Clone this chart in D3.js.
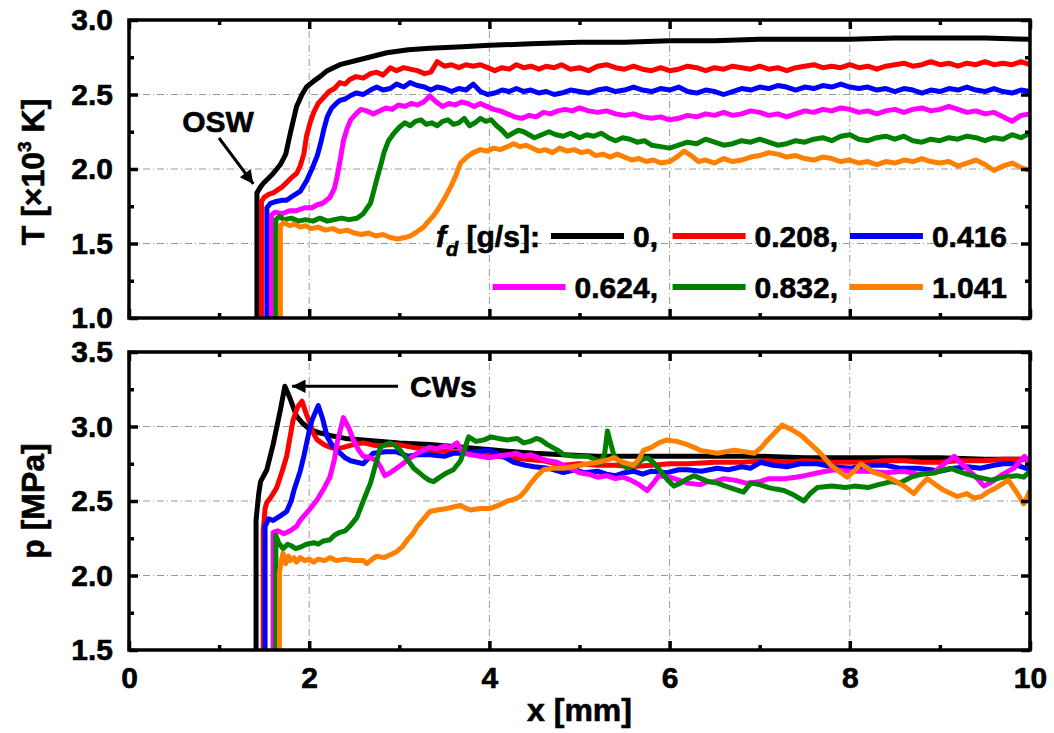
<!DOCTYPE html>
<html>
<head>
<meta charset="utf-8">
<script src="https://cdn.jsdelivr.net/npm/d3@7"></script>
<style>
  body { margin: 0; background: #fff; }
  text { font-family: "Liberation Sans", Arial, sans-serif; font-weight: bold; fill: #000; stroke: #000; stroke-width: 0.6px; }
</style>
</head>
<body>
<script>
// fuel feed rates and line colours
const fdValues = [0, 0.208, 0.416, 0.624, 0.832, 1.041];
const colors = ["#000000", "#ff0000", "#0000ff", "#ff00ff", "#008000", "#ff8000"];

// temperature profiles [x mm, T x10^3 K]
const T_0 = [[1.42,1.0],[1.42,1.84],[1.46,1.88],[1.5,1.91],[1.6,1.97],[1.68,2.03],[1.74,2.10],[1.79,2.24],[1.86,2.42],[1.92,2.50],[1.97,2.55],[2.05,2.59],[2.12,2.62],[2.2,2.66],[2.34,2.70],[2.6,2.74],[2.86,2.78],[3.1,2.80],[3.34,2.81],[3.7,2.82],[4.0,2.83],[4.46,2.84],[5.0,2.85],[5.5,2.85],[6.0,2.86],[6.5,2.86],[7.0,2.87],[7.5,2.87],[8.0,2.87],[8.5,2.88],[9.0,2.88],[9.5,2.88],[10.0,2.87]];
const T_0208 = [[1.47,1.0],[1.47,1.78],[1.5,1.81],[1.55,1.83],[1.6,1.84],[1.65,1.86],[1.7,1.88],[1.75,1.91],[1.8,1.94],[1.86,1.97],[1.9,2.02],[1.94,2.10],[1.97,2.22],[2.01,2.31],[2.05,2.38],[2.1,2.44],[2.16,2.48],[2.22,2.52],[2.28,2.54],[2.34,2.58],[2.4,2.57],[2.45,2.60],[2.52,2.62],[2.6,2.61],[2.68,2.64],[2.75,2.65],[2.82,2.63],[2.9,2.68],[2.97,2.66],[3.05,2.68],[3.12,2.67],[3.2,2.66],[3.28,2.64],[3.35,2.65],[3.42,2.72],[3.5,2.69],[3.58,2.70],[3.66,2.68],[3.74,2.70],[3.82,2.69],[3.9,2.70],[3.98,2.68],[4.06,2.66],[4.14,2.68],[4.22,2.67],[4.3,2.70],[4.38,2.68],[4.46,2.69],[4.55,2.67],[4.63,2.69],[4.72,2.68],[4.8,2.70],[4.9,2.67],[5.0,2.68],[5.1,2.66],[5.2,2.69],[5.3,2.70],[5.4,2.68],[5.5,2.67],[5.6,2.69],[5.7,2.67],[5.8,2.66],[5.9,2.68],[6.0,2.66],[6.1,2.67],[6.2,2.69],[6.3,2.68],[6.4,2.66],[6.5,2.68],[6.6,2.67],[6.7,2.69],[6.8,2.68],[6.9,2.67],[7.0,2.69],[7.1,2.67],[7.2,2.68],[7.3,2.66],[7.4,2.68],[7.5,2.69],[7.6,2.70],[7.7,2.68],[7.8,2.69],[7.9,2.68],[8.0,2.70],[8.1,2.68],[8.2,2.69],[8.3,2.67],[8.4,2.69],[8.5,2.70],[8.6,2.71],[8.7,2.69],[8.8,2.70],[8.9,2.72],[9.0,2.70],[9.1,2.71],[9.2,2.69],[9.3,2.71],[9.4,2.70],[9.5,2.72],[9.6,2.70],[9.7,2.71],[9.8,2.70],[9.9,2.72],[10.0,2.70]];
const T_0416 = [[1.53,1.0],[1.53,1.74],[1.57,1.77],[1.62,1.78],[1.7,1.79],[1.75,1.79],[1.82,1.82],[1.9,1.85],[1.97,1.92],[2.03,2.0],[2.09,2.09],[2.13,2.18],[2.16,2.26],[2.2,2.35],[2.25,2.41],[2.3,2.44],[2.34,2.46],[2.4,2.47],[2.45,2.49],[2.52,2.51],[2.6,2.50],[2.68,2.53],[2.75,2.55],[2.82,2.53],[2.9,2.54],[2.97,2.57],[3.05,2.55],[3.12,2.58],[3.2,2.56],[3.28,2.55],[3.35,2.53],[3.42,2.55],[3.5,2.54],[3.58,2.52],[3.66,2.54],[3.74,2.53],[3.82,2.57],[3.9,2.52],[3.98,2.50],[4.06,2.51],[4.14,2.53],[4.22,2.52],[4.3,2.54],[4.38,2.52],[4.46,2.53],[4.55,2.51],[4.63,2.52],[4.72,2.50],[4.8,2.51],[4.9,2.53],[5.0,2.52],[5.1,2.51],[5.2,2.53],[5.3,2.54],[5.4,2.52],[5.5,2.53],[5.6,2.55],[5.7,2.53],[5.8,2.52],[5.9,2.54],[6.0,2.53],[6.1,2.55],[6.2,2.52],[6.3,2.51],[6.4,2.53],[6.5,2.52],[6.6,2.50],[6.7,2.52],[6.8,2.54],[6.9,2.53],[7.0,2.55],[7.1,2.54],[7.2,2.56],[7.3,2.55],[7.4,2.53],[7.5,2.55],[7.6,2.54],[7.7,2.56],[7.8,2.55],[7.9,2.57],[8.0,2.55],[8.1,2.54],[8.2,2.55],[8.3,2.53],[8.4,2.54],[8.5,2.52],[8.6,2.54],[8.7,2.53],[8.8,2.51],[8.9,2.53],[9.0,2.52],[9.1,2.54],[9.2,2.53],[9.3,2.55],[9.4,2.53],[9.5,2.52],[9.6,2.54],[9.7,2.52],[9.8,2.51],[9.9,2.53],[10.0,2.52]];
const T_0624 = [[1.58,1.0],[1.58,1.69],[1.62,1.71],[1.7,1.70],[1.78,1.72],[1.86,1.72],[1.95,1.74],[2.03,1.74],[2.09,1.76],[2.15,1.77],[2.23,1.81],[2.28,1.87],[2.31,1.95],[2.35,2.08],[2.38,2.19],[2.42,2.27],[2.46,2.33],[2.52,2.37],[2.57,2.40],[2.64,2.39],[2.71,2.37],[2.78,2.39],[2.85,2.41],[2.92,2.40],[2.99,2.43],[3.06,2.42],[3.13,2.44],[3.2,2.43],[3.27,2.45],[3.34,2.49],[3.41,2.45],[3.48,2.42],[3.55,2.44],[3.62,2.43],[3.69,2.45],[3.76,2.44],[3.83,2.42],[3.9,2.44],[3.97,2.42],[4.05,2.40],[4.12,2.39],[4.2,2.37],[4.28,2.35],[4.36,2.34],[4.44,2.36],[4.52,2.35],[4.6,2.38],[4.68,2.37],[4.76,2.39],[4.84,2.40],[4.92,2.39],[5.0,2.41],[5.1,2.39],[5.2,2.38],[5.3,2.39],[5.4,2.37],[5.5,2.36],[5.6,2.37],[5.7,2.35],[5.8,2.34],[5.9,2.35],[6.0,2.33],[6.1,2.34],[6.2,2.36],[6.3,2.35],[6.4,2.37],[6.5,2.36],[6.6,2.38],[6.7,2.36],[6.8,2.37],[6.9,2.39],[7.0,2.38],[7.1,2.36],[7.2,2.37],[7.3,2.35],[7.4,2.37],[7.5,2.39],[7.6,2.38],[7.7,2.40],[7.8,2.39],[7.9,2.41],[8.0,2.40],[8.1,2.38],[8.2,2.39],[8.3,2.37],[8.4,2.39],[8.5,2.40],[8.6,2.38],[8.7,2.40],[8.8,2.41],[8.9,2.39],[9.0,2.40],[9.1,2.42],[9.2,2.40],[9.3,2.38],[9.4,2.39],[9.5,2.37],[9.6,2.38],[9.7,2.35],[9.8,2.32],[9.9,2.36],[10.0,2.37]];
const T_0832 = [[1.63,1.0],[1.63,1.66],[1.67,1.68],[1.72,1.66],[1.8,1.67],[1.88,1.65],[1.96,1.66],[2.04,1.65],[2.12,1.67],[2.2,1.65],[2.28,1.66],[2.36,1.67],[2.44,1.66],[2.53,1.67],[2.6,1.70],[2.68,1.77],[2.72,1.86],[2.75,1.93],[2.8,2.04],[2.83,2.11],[2.88,2.19],[2.94,2.24],[3.0,2.28],[3.06,2.31],[3.12,2.29],[3.18,2.32],[3.24,2.33],[3.3,2.30],[3.36,2.31],[3.42,2.29],[3.48,2.32],[3.54,2.33],[3.6,2.30],[3.66,2.31],[3.72,2.34],[3.78,2.29],[3.84,2.31],[3.9,2.34],[3.96,2.32],[4.02,2.33],[4.08,2.29],[4.14,2.26],[4.2,2.22],[4.26,2.24],[4.32,2.26],[4.38,2.25],[4.44,2.23],[4.5,2.21],[4.58,2.23],[4.66,2.25],[4.74,2.23],[4.82,2.22],[4.9,2.24],[5.0,2.21],[5.08,2.23],[5.16,2.22],[5.24,2.24],[5.32,2.21],[5.4,2.19],[5.48,2.21],[5.56,2.20],[5.64,2.18],[5.72,2.19],[5.8,2.16],[5.9,2.15],[6.0,2.14],[6.1,2.16],[6.2,2.18],[6.3,2.17],[6.4,2.20],[6.5,2.18],[6.6,2.16],[6.7,2.17],[6.8,2.19],[6.9,2.18],[7.0,2.20],[7.1,2.18],[7.2,2.16],[7.3,2.17],[7.4,2.19],[7.5,2.18],[7.6,2.20],[7.7,2.21],[7.8,2.19],[7.9,2.22],[8.0,2.23],[8.1,2.20],[8.2,2.19],[8.3,2.21],[8.4,2.22],[8.5,2.20],[8.6,2.22],[8.7,2.19],[8.8,2.18],[8.9,2.20],[9.0,2.19],[9.1,2.21],[9.2,2.20],[9.3,2.22],[9.4,2.21],[9.5,2.19],[9.6,2.21],[9.7,2.20],[9.8,2.23],[9.9,2.21],[10.0,2.24]];
const T_1041 = [[1.68,1.0],[1.68,1.62],[1.72,1.64],[1.78,1.62],[1.84,1.63],[1.9,1.61],[1.96,1.62],[2.02,1.60],[2.1,1.61],[2.18,1.59],[2.26,1.60],[2.34,1.58],[2.42,1.59],[2.5,1.57],[2.58,1.56],[2.66,1.57],[2.74,1.55],[2.82,1.56],[2.9,1.54],[2.98,1.53],[3.06,1.54],[3.12,1.55],[3.2,1.58],[3.27,1.61],[3.31,1.64],[3.37,1.68],[3.42,1.72],[3.5,1.80],[3.57,1.88],[3.63,1.96],[3.68,2.04],[3.75,2.08],[3.82,2.11],[3.9,2.13],[3.97,2.12],[4.05,2.14],[4.12,2.13],[4.2,2.15],[4.27,2.17],[4.34,2.15],[4.41,2.16],[4.48,2.14],[4.55,2.12],[4.62,2.13],[4.7,2.11],[4.78,2.14],[4.86,2.12],[4.94,2.13],[5.02,2.11],[5.1,2.12],[5.18,2.09],[5.26,2.10],[5.34,2.08],[5.42,2.10],[5.5,2.08],[5.58,2.06],[5.66,2.07],[5.74,2.05],[5.82,2.06],[5.9,2.04],[6.0,2.05],[6.08,2.08],[6.16,2.12],[6.24,2.09],[6.32,2.05],[6.4,2.06],[6.5,2.04],[6.6,2.07],[6.7,2.05],[6.8,2.06],[6.9,2.08],[7.0,2.09],[7.1,2.11],[7.2,2.10],[7.3,2.08],[7.4,2.09],[7.5,2.07],[7.6,2.06],[7.7,2.08],[7.8,2.07],[7.9,2.05],[8.0,2.06],[8.1,2.04],[8.2,2.05],[8.3,2.03],[8.4,2.05],[8.5,2.04],[8.6,2.06],[8.7,2.05],[8.8,2.07],[8.9,2.05],[9.0,2.04],[9.1,2.05],[9.2,2.02],[9.3,2.04],[9.4,2.06],[9.5,2.03],[9.6,1.99],[9.7,2.02],[9.8,2.04],[9.9,2.01],[10.0,1.99]];

// pressure profiles [x mm, p MPa]
const P_0 = [[1.41,1.5],[1.41,2.37],[1.44,2.55],[1.46,2.63],[1.53,2.71],[1.6,2.88],[1.68,3.11],[1.73,3.27],[1.78,3.20],[1.86,3.07],[1.93,3.02],[2.01,2.98],[2.1,2.96],[2.23,2.94],[2.4,2.92],[2.6,2.91],[3.0,2.89],[3.34,2.88],[3.7,2.86],[4.08,2.84],[4.5,2.82],[4.82,2.81],[5.2,2.80],[5.6,2.80],[6.0,2.80],[6.5,2.80],[7.0,2.80],[7.5,2.79],[8.0,2.79],[8.5,2.79],[9.0,2.79],[9.5,2.78],[10.0,2.78]];
const P_0208 = [[1.49,1.5],[1.49,2.30],[1.51,2.45],[1.53,2.49],[1.58,2.53],[1.64,2.59],[1.7,2.70],[1.75,2.80],[1.82,3.04],[1.87,3.13],[1.92,3.17],[1.97,3.08],[2.01,3.02],[2.05,2.95],[2.09,2.91],[2.16,2.88],[2.23,2.86],[2.3,2.85],[2.38,2.86],[2.5,2.88],[2.6,2.89],[2.75,2.87],[2.97,2.88],[3.15,2.86],[3.34,2.84],[3.6,2.83],[3.8,2.82],[4.08,2.80],[4.4,2.78],[4.6,2.77],[4.82,2.74],[5.0,2.75],[5.2,2.74],[5.4,2.74],[5.57,2.73],[5.8,2.74],[6.0,2.75],[6.2,2.75],[6.5,2.76],[6.8,2.76],[7.09,2.77],[7.3,2.76],[7.5,2.77],[7.8,2.76],[8.2,2.76],[8.4,2.77],[8.6,2.77],[8.8,2.76],[9.0,2.76],[9.2,2.77],[9.5,2.77],[9.7,2.78],[10.0,2.78]];
const P_0416 = [[1.51,1.5],[1.51,2.33],[1.55,2.38],[1.6,2.37],[1.68,2.40],[1.75,2.43],[1.8,2.50],[1.83,2.57],[1.9,2.70],[1.94,2.80],[2.0,2.97],[2.03,3.04],[2.1,3.14],[2.15,3.05],[2.2,2.93],[2.26,2.87],[2.31,2.84],[2.4,2.79],[2.46,2.77],[2.6,2.75],[2.71,2.82],[2.85,2.83],[2.97,2.83],[3.1,2.80],[3.2,2.81],[3.34,2.81],[3.5,2.80],[3.6,2.82],[3.71,2.82],[3.85,2.83],[4.0,2.84],[4.15,2.80],[4.27,2.76],[4.4,2.74],[4.5,2.73],[4.65,2.72],[4.82,2.69],[4.95,2.71],[5.05,2.69],[5.2,2.70],[5.3,2.68],[5.4,2.67],[5.5,2.69],[5.6,2.70],[5.7,2.68],[5.8,2.70],[5.97,2.69],[6.1,2.71],[6.2,2.71],[6.35,2.70],[6.53,2.72],[6.65,2.71],[6.8,2.73],[6.9,2.72],[7.01,2.76],[7.15,2.74],[7.3,2.73],[7.45,2.75],[7.64,2.75],[7.8,2.73],[8.01,2.72],[8.2,2.74],[8.4,2.74],[8.55,2.72],[8.75,2.72],[8.9,2.71],[9.0,2.70],[9.15,2.72],[9.31,2.73],[9.45,2.72],[9.6,2.74],[9.7,2.75],[9.8,2.75],[9.9,2.73],[10.0,2.71]];
const P_0624 = [[1.6,1.5],[1.6,2.29],[1.65,2.30],[1.72,2.28],[1.79,2.30],[1.86,2.33],[1.9,2.37],[2.0,2.44],[2.09,2.51],[2.16,2.58],[2.23,2.66],[2.28,2.78],[2.31,2.89],[2.38,3.06],[2.44,2.99],[2.49,2.91],[2.55,2.84],[2.6,2.80],[2.68,2.79],[2.75,2.77],[2.8,2.72],[2.84,2.67],[2.9,2.69],[2.97,2.72],[3.04,2.75],[3.1,2.78],[3.2,2.82],[3.27,2.84],[3.34,2.86],[3.42,2.85],[3.5,2.87],[3.57,2.86],[3.64,2.89],[3.71,2.82],[3.8,2.81],[3.9,2.80],[4.0,2.79],[4.08,2.80],[4.2,2.81],[4.3,2.82],[4.38,2.80],[4.46,2.81],[4.55,2.79],[4.65,2.77],[4.75,2.76],[4.82,2.74],[4.9,2.72],[5.0,2.69],[5.1,2.68],[5.2,2.66],[5.3,2.67],[5.4,2.65],[5.48,2.66],[5.57,2.64],[5.66,2.61],[5.75,2.57],[5.82,2.62],[5.88,2.67],[6.0,2.66],[6.1,2.64],[6.2,2.62],[6.34,2.61],[6.42,2.63],[6.5,2.63],[6.6,2.65],[6.72,2.64],[6.85,2.62],[7.0,2.63],[7.1,2.65],[7.27,2.65],[7.4,2.66],[7.5,2.67],[7.65,2.69],[7.82,2.71],[8.0,2.70],[8.2,2.70],[8.4,2.69],[8.6,2.70],[8.75,2.68],[8.93,2.69],[9.05,2.75],[9.16,2.80],[9.22,2.76],[9.3,2.72],[9.4,2.66],[9.49,2.60],[9.58,2.63],[9.7,2.68],[9.82,2.72],[9.94,2.80],[10.0,2.74]];
const P_0832 = [[1.63,1.5],[1.63,2.27],[1.66,2.22],[1.71,2.18],[1.76,2.21],[1.8,2.20],[1.85,2.18],[1.9,2.19],[1.97,2.21],[2.05,2.22],[2.1,2.21],[2.15,2.23],[2.23,2.24],[2.28,2.27],[2.34,2.29],[2.4,2.30],[2.45,2.33],[2.53,2.39],[2.6,2.50],[2.68,2.62],[2.74,2.75],[2.79,2.86],[2.85,2.88],[2.9,2.89],[2.96,2.87],[3.01,2.84],[3.1,2.77],[3.16,2.72],[3.22,2.69],[3.28,2.66],[3.33,2.64],[3.38,2.63],[3.45,2.66],[3.53,2.69],[3.6,2.71],[3.68,2.77],[3.73,2.86],[3.77,2.93],[3.85,2.90],[3.94,2.91],[4.02,2.93],[4.1,2.92],[4.2,2.91],[4.31,2.92],[4.38,2.89],[4.45,2.90],[4.52,2.92],[4.57,2.91],[4.64,2.88],[4.7,2.86],[4.76,2.84],[4.83,2.81],[4.95,2.80],[5.09,2.80],[5.17,2.78],[5.23,2.75],[5.28,2.82],[5.31,2.97],[5.34,2.90],[5.38,2.81],[5.45,2.76],[5.53,2.72],[5.62,2.74],[5.7,2.78],[5.75,2.79],[5.82,2.76],[5.9,2.70],[5.98,2.64],[6.05,2.60],[6.12,2.62],[6.2,2.65],[6.27,2.67],[6.35,2.65],[6.43,2.63],[6.53,2.62],[6.62,2.60],[6.72,2.58],[6.82,2.56],[6.9,2.62],[7.0,2.61],[7.1,2.59],[7.18,2.58],[7.27,2.57],[7.38,2.54],[7.49,2.50],[7.56,2.55],[7.64,2.59],[7.8,2.60],[7.95,2.59],[8.05,2.60],[8.2,2.59],[8.32,2.61],[8.46,2.63],[8.55,2.62],[8.68,2.66],[8.8,2.68],[8.95,2.69],[9.05,2.71],[9.12,2.72],[9.2,2.70],[9.3,2.68],[9.42,2.66],[9.57,2.64],[9.7,2.66],[9.85,2.67],[9.93,2.66],[10.0,2.70]];
const P_1041 = [[1.67,1.5],[1.67,2.02],[1.69,2.10],[1.71,2.15],[1.74,2.08],[1.77,2.13],[1.79,2.10],[1.83,2.12],[1.86,2.09],[1.9,2.12],[1.95,2.10],[2.0,2.11],[2.05,2.09],[2.1,2.11],[2.17,2.10],[2.23,2.12],[2.3,2.10],[2.4,2.11],[2.5,2.10],[2.6,2.10],[2.64,2.08],[2.7,2.11],[2.75,2.13],[2.83,2.12],[2.9,2.14],[2.97,2.16],[3.03,2.19],[3.09,2.24],[3.15,2.28],[3.2,2.33],[3.27,2.38],[3.34,2.43],[3.42,2.44],[3.53,2.45],[3.6,2.46],[3.68,2.47],[3.74,2.45],[3.79,2.44],[3.9,2.45],[4.01,2.45],[4.1,2.47],[4.2,2.50],[4.27,2.51],[4.34,2.53],[4.4,2.57],[4.46,2.62],[4.53,2.67],[4.6,2.71],[4.7,2.72],[4.83,2.72],[4.92,2.73],[5.01,2.74],[5.1,2.75],[5.2,2.76],[5.27,2.77],[5.38,2.79],[5.48,2.76],[5.6,2.74],[5.66,2.78],[5.71,2.84],[5.8,2.86],[5.88,2.89],[5.97,2.91],[6.08,2.90],[6.19,2.88],[6.27,2.86],[6.34,2.84],[6.43,2.83],[6.53,2.82],[6.62,2.83],[6.72,2.84],[6.83,2.83],[6.94,2.82],[7.02,2.86],[7.09,2.91],[7.17,2.96],[7.25,3.01],[7.35,2.98],[7.46,2.94],[7.55,2.89],[7.64,2.84],[7.72,2.79],[7.79,2.74],[7.88,2.70],[7.97,2.66],[8.05,2.70],[8.12,2.75],[8.2,2.72],[8.27,2.69],[8.38,2.67],[8.49,2.64],[8.6,2.60],[8.71,2.55],[8.78,2.60],[8.86,2.65],[8.95,2.61],[9.05,2.57],[9.19,2.53],[9.3,2.55],[9.38,2.52],[9.46,2.53],[9.53,2.56],[9.6,2.58],[9.68,2.61],[9.76,2.64],[9.85,2.56],[9.93,2.48],[9.97,2.53],[10.0,2.57]];

const tSeries = [T_0, T_0208, T_0416, T_0624, T_0832, T_1041];
const pSeries = [P_0, P_0208, P_0416, P_0624, P_0832, P_1041];

const xTicks = [0, 2, 4, 6, 8, 10];
const xMinor = [1, 3, 5, 7, 9];
const tTicks = [1.0, 1.5, 2.0, 2.5, 3.0];
const tMinor = [1.25, 1.75, 2.25, 2.75];
const pTicks = [1.5, 2.0, 2.5, 3.0, 3.5];
const pMinor = [1.75, 2.25, 2.75, 3.25];

const width = 1054, height = 733;
const svg = d3.select("body").append("svg").attr("width", width).attr("height", height);

const x = d3.scaleLinear().domain([0, 10]).range([129, 1030]);
const yT = d3.scaleLinear().domain([1, 3]).range([318, 20]);
const yP = d3.scaleLinear().domain([1.5, 3.5]).range([650, 352]);

const defs = svg.append("defs");
defs.append("marker").attr("id", "arrow")
    .attr("viewBox", "0 0 10 10").attr("refX", 10).attr("refY", 5)
    .attr("markerWidth", 6).attr("markerHeight", 4.5).attr("orient", "auto")
    .attr("markerUnits", "strokeWidth")
    .append("path").attr("d", "M0,0L10,5L0,10z").attr("fill", "#000");

// one panel: grid, curves, frame, ticks
const drawPanel = (y, yTicks, yMinor, series, id, showX) => {
    const [y0, y1] = y.range();
    const g = svg.append("g");

    defs.append("clipPath").attr("id", id)
        .append("rect").attr("x", x(0)).attr("y", y1).attr("width", x(10) - x(0)).attr("height", y0 - y1);

    const grid = g.append("g").attr("stroke", "#9a9a9a").attr("stroke-width", 1).attr("stroke-dasharray", "7,3,1,3");
    grid.selectAll(".gx").data(xTicks.slice(1, -1)).enter().append("line")
        .attr("x1", d => x(d)).attr("x2", d => x(d)).attr("y1", y0).attr("y2", y1);
    grid.selectAll(".gy").data(yTicks.slice(1, -1)).enter().append("line")
        .attr("x1", x(0)).attr("x2", x(10)).attr("y1", d => y(d)).attr("y2", d => y(d));

    const line = d3.line().x(d => x(d[0])).y(d => y(d[1]));
    g.append("g").attr("clip-path", "url(#" + id + ")")
        .selectAll("path").data(series).enter().append("path")
        .attr("d", line).attr("fill", "none")
        .attr("stroke", (d, i) => colors[i]).attr("stroke-width", 5)
        .attr("stroke-linejoin", "round");

    const axes = g.append("g");
    axes.append("g").attr("transform", "translate(0," + y0 + ")")
        .call(d3.axisBottom(x).tickValues(xTicks).tickSize(-9).tickPadding(17)
            .tickFormat(showX ? d3.format("d") : ""));
    axes.append("g").attr("transform", "translate(0," + y0 + ")")
        .call(d3.axisBottom(x).tickValues(xMinor).tickSize(-5).tickFormat(""));
    axes.append("g").attr("transform", "translate(0," + y1 + ")")
        .call(d3.axisTop(x).tickValues(xTicks).tickSize(-9).tickFormat(""));
    axes.append("g").attr("transform", "translate(0," + y1 + ")")
        .call(d3.axisTop(x).tickValues(xMinor).tickSize(-5).tickFormat(""));
    axes.append("g").attr("transform", "translate(" + x(0) + ",0)")
        .call(d3.axisLeft(y).tickValues(yTicks).tickSize(-9).tickPadding(16).tickFormat(d3.format(".1f")));
    axes.append("g").attr("transform", "translate(" + x(0) + ",0)")
        .call(d3.axisLeft(y).tickValues(yMinor).tickSize(-5).tickFormat(""));
    axes.append("g").attr("transform", "translate(" + x(10) + ",0)")
        .call(d3.axisRight(y).tickValues(yTicks).tickSize(-9).tickFormat(""));
    axes.append("g").attr("transform", "translate(" + x(10) + ",0)")
        .call(d3.axisRight(y).tickValues(yMinor).tickSize(-5).tickFormat(""));

    axes.selectAll(".domain").remove();
    axes.selectAll(".tick line").attr("stroke", "#000").attr("stroke-width", 3.5);
    axes.selectAll(".tick text").attr("font-size", 30).attr("font-family", null).attr("fill", "#000");

    g.append("rect").attr("x", x(0)).attr("y", y1).attr("width", x(10) - x(0)).attr("height", y0 - y1)
        .attr("fill", "none").attr("stroke", "#000").attr("stroke-width", 3.5);
    return g;
};

drawPanel(yT, tTicks, tMinor, tSeries, "clipT", false);
drawPanel(yP, pTicks, pMinor, pSeries, "clipP", true);

// axis titles
const tTitle = svg.append("text").attr("transform", "translate(44," + (yT(2) + 3) + ") rotate(-90)")
    .attr("text-anchor", "middle").attr("font-size", 32);
tTitle.append("tspan").text("T [×10");
tTitle.append("tspan").text("3").attr("font-size", 19).attr("dy", -13);
tTitle.append("tspan").text(" K]").attr("dy", 13);

svg.append("text").attr("transform", "translate(44," + yP(2.5) + ") rotate(-90)")
    .attr("text-anchor", "middle").attr("font-size", 32).text("p [MPa]");

svg.append("text").attr("x", x(5)).attr("y", 721).attr("text-anchor", "middle")
    .attr("font-size", 32).text("x [mm]");

// annotations
svg.append("text").attr("x", 218).attr("y", 132).attr("text-anchor", "middle").attr("font-size", 30).text("OSW");
svg.append("line").attr("x1", 219).attr("y1", 138).attr("x2", x(1.38)).attr("y2", yT(1.9))
    .attr("stroke", "#000").attr("stroke-width", 3).attr("marker-end", "url(#arrow)");

svg.append("text").attr("x", 410).attr("y", 397).attr("font-size", 30).text("CWs");
svg.append("line").attr("x1", 398).attr("y1", yP(3.27)).attr("x2", x(1.81)).attr("y2", yP(3.27))
    .attr("stroke", "#000").attr("stroke-width", 3).attr("marker-end", "url(#arrow)");

// legend
const legRows = [236, 287];
const legRight = [658, 838, 1007];
const leg = svg.append("g");
const lt = leg.append("text").attr("x", 436).attr("y", legRows[0] + 11).attr("font-size", 30);
lt.append("tspan").text("f").attr("font-style", "italic");
lt.append("tspan").text("d").attr("font-style", "italic").attr("font-size", 20).attr("dy", 9);
lt.append("tspan").text(" [g/s]:").attr("dy", -9);

fdValues.forEach((v, i) => {
    const row = Math.floor(i / 3), col = i % 3;
    const label = d3.format("")(v) + (col < 2 ? "," : "");
    const t = leg.append("text").attr("x", legRight[col]).attr("y", legRows[row] + 11)
        .attr("text-anchor", "end").attr("font-size", 30).text(label);
    const tw = t.node().getComputedTextLength();
    const xe = legRight[col] - tw - 9;
    leg.append("line").attr("x1", xe - 73).attr("x2", xe)
        .attr("y1", legRows[row]).attr("y2", legRows[row])
        .attr("stroke", colors[i]).attr("stroke-width", 6);
});
</script>
</body>
</html>
